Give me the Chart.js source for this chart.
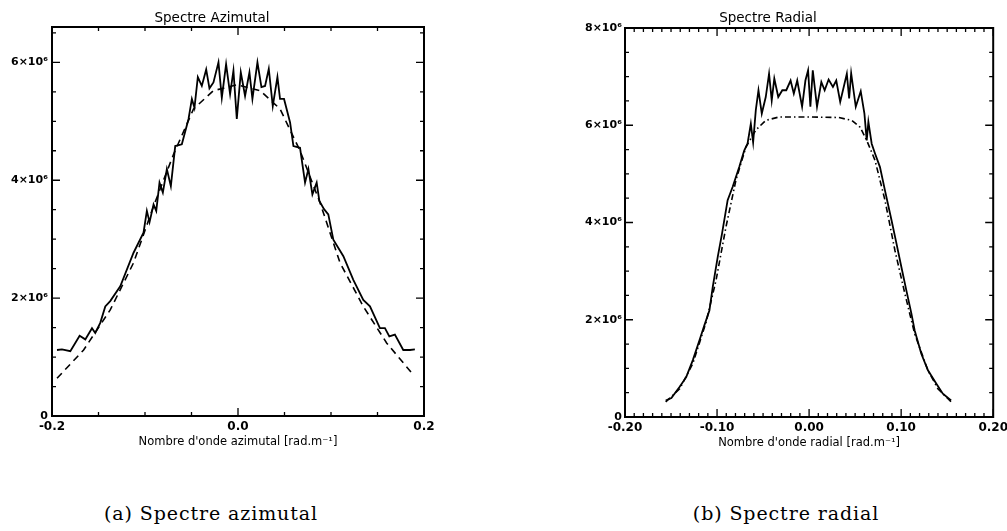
<!DOCTYPE html>
<html>
<head>
<meta charset="utf-8">
<script src="https://cdn.jsdelivr.net/npm/chart.js@4.4.1/dist/chart.umd.min.js"></script>
<style>
  body { margin: 0; background: #fff; overflow: hidden; width: 1007px; height: 531px; position: relative; }
  .box { position: absolute; top: 0; }
  .caption { position: absolute; font-family: "DejaVu Serif", serif; font-size: 19px; letter-spacing: 0.9px; color: #000; white-space: nowrap; transform: translateX(-50%); }
</style>
</head>
<body>
<div class="box" style="left:0; width:470px; height:460px;"><canvas id="azChart"></canvas></div>
<div class="box" style="left:540px; width:472px; height:461px;"><canvas id="radChart"></canvas></div>
<div class="caption" style="left:211px; top:502px;">(a) Spectre azimutal</div>
<div class="caption" style="left:786px; top:502px;">(b) Spectre radial</div>

<script>
// values, y in units of 10^6

// Spectre azimutal - solid (measured)
const azX = [-0.1946, -0.1893, -0.1803, -0.1703, -0.1642, -0.1570, -0.1535, -0.1481, -0.1427, -0.1374,
  -0.1266, -0.1123, -0.1016, -0.0980, -0.0951, -0.0908, -0.0879, -0.0844, -0.0808, -0.0765,
  -0.0722, -0.0675, -0.0604, -0.0532, -0.0496, -0.0468, -0.0432, -0.0389, -0.0342, -0.0307,
  -0.0264, -0.0210, -0.0174, -0.0128, -0.0085, -0.0049, -0.0013, 0.0030, 0.0076, 0.0123,
  0.0155, 0.0209, 0.0252, 0.0291, 0.0331, 0.0374, 0.0424, 0.0452, 0.0495, 0.0560,
  0.0596, 0.0667, 0.0721, 0.0757, 0.0800, 0.0846, 0.0875, 0.0925, 0.0971, 0.1025,
  0.1133, 0.1240, 0.1347, 0.1419, 0.1526, 0.1580, 0.1627, 0.1687, 0.1777, 0.1849, 0.1902];
const azSolid = [1.12, 1.13, 1.10, 1.36, 1.30, 1.49, 1.41, 1.58, 1.86, 1.95,
  2.20, 2.77, 3.11, 3.48, 3.29, 3.59, 3.48, 3.96, 3.79, 4.19,
  3.90, 4.58, 4.61, 5.04, 5.38, 5.23, 5.75, 5.60, 5.88, 5.56,
  5.66, 6.00, 5.40, 5.97, 5.46, 5.86, 5.04, 5.83, 5.43, 5.83,
  5.38, 6.00, 5.58, 5.60, 5.89, 5.26, 5.75, 5.38, 5.38, 4.98,
  4.58, 4.55, 3.96, 4.19, 3.76, 3.96, 3.65, 3.51, 3.42, 2.99,
  2.71, 2.31, 1.97, 1.86, 1.49, 1.49, 1.35, 1.38, 1.12, 1.12, 1.13];

// Spectre azimutal - dashed (model)
const azDashX = [-0.1946, -0.1660, -0.1374, -0.1123, -0.0908, -0.0693, -0.0478, -0.0264, -0.0013,
  0.0238, 0.0452, 0.0667, 0.0882, 0.1097, 0.1347, 0.1598, 0.1884];
const azDash = [0.64, 1.12, 1.80, 2.60, 3.56, 4.44, 5.21, 5.52, 5.62,
  5.52, 5.21, 4.50, 3.62, 2.60, 1.86, 1.24, 0.70];

// Spectre radial - solid (measured)
const radX = [-0.1558, -0.1496, -0.1406, -0.1335, -0.1263, -0.1191, -0.1137, -0.1083, -0.1047, -0.0993,
  -0.0946, -0.0885, -0.0831, -0.0759, -0.0705, -0.0669, -0.0633, -0.0608, -0.0579, -0.0550,
  -0.0514, -0.0471, -0.0435, -0.0406, -0.0378, -0.0335, -0.0291, -0.0248, -0.0201, -0.0166,
  -0.0129, -0.0076, -0.0040, -0.0011, 0.0014, 0.0040, 0.0086, 0.0133, 0.0169, 0.0212,
  0.0259, 0.0295, 0.0338, 0.0385, 0.0410, 0.0435, 0.0457, 0.0507, 0.0561, 0.0601,
  0.0626, 0.0644, 0.0680, 0.0716, 0.0770, 0.0824, 0.0896, 0.0950, 0.1003, 0.1057,
  0.1111, 0.1147, 0.1219, 0.1291, 0.1381, 0.1453, 0.1543];
const radSolid = [0.34, 0.39, 0.62, 0.82, 1.17, 1.58, 1.89, 2.19, 2.67, 3.29,
  3.77, 4.46, 4.73, 5.14, 5.48, 5.62, 6.03, 5.65, 6.31, 6.72,
  6.24, 6.58, 7.06, 6.51, 6.96, 6.58, 6.72, 6.72, 6.92, 6.65,
  6.92, 6.38, 6.92, 7.13, 6.38, 7.13, 6.38, 6.89, 6.72, 6.94,
  6.79, 6.92, 6.48, 6.86, 7.06, 6.55, 7.07, 6.38, 6.70, 6.24,
  5.69, 6.07, 5.62, 5.42, 5.14, 4.66, 4.04, 3.56, 3.08, 2.60,
  2.13, 1.78, 1.30, 0.96, 0.69, 0.48, 0.34];

// Spectre radial - dash-dot (model)
const radDashX = [-0.1558, -0.1406, -0.1263, -0.1119, -0.1011, -0.0903, -0.0795, -0.0687, -0.0579, -0.0471,
  -0.0327, -0.0004, 0.0320, 0.0464, 0.0554, 0.0626, 0.0716, 0.0824, 0.0932, 0.1040,
  0.1147, 0.1291, 0.1399, 0.1543];
const radDash = [0.31, 0.58, 1.10, 1.95, 2.81, 3.91, 4.87, 5.55, 5.90, 6.10,
  6.17, 6.17, 6.16, 6.10, 5.96, 5.69, 5.28, 4.46, 3.43, 2.54,
  1.71, 0.96, 0.58, 0.31];

// tick labels (major ticks) and minor tick spacing
const azXTicks = [-0.2, 0, 0.2];
const azXLabels = ['-0.2', '0.0', '0.2'];
const azYTicks = [0, 2, 4, 6];
const azYLabels = ['0', '2\u00d710\u2076', '4\u00d710\u2076', '6\u00d710\u2076'];
const radXTicks = [-0.2, -0.1, 0, 0.1, 0.2];
const radXLabels = ['-0.20', '-0.10', '0.00', '0.10', '0.20'];
const radYTicks = [0, 2, 4, 6, 8];
const radYLabels = ['0', '2\u00d710\u2076', '4\u00d710\u2076', '6\u00d710\u2076', '8\u00d710\u2076'];

Chart.defaults.font.family = '"DejaVu Sans", sans-serif';
Chart.defaults.color = '#000';

function pts(xs, ys) {
    return xs.map((x, i) => ({ x: x, y: ys[i] * 1e6 }));
}

function findTick(v, list) {
    return list.findIndex(t => Math.abs(t - v) < 1e-7);
}

// tick values every `step` between min and max
function stepTicks(min, max, step, unit) {
    const out = [];
    const n = Math.round((max - min) / step);
    for (let i = 0; i <= n; i++) {
        const v = Math.round((min + i * step) * 1e6) / 1e6;
        if (v <= max + 1e-9) out.push({ value: v * unit });
    }
    return out;
}

// box with inward ticks on all four sides
const frameTicks = {
    id: 'frameTicks',
    afterDatasetsDraw(chart, args, opts) {
        const { ctx, chartArea: a, scales: { x, y } } = chart;
        ctx.save();
        ctx.strokeStyle = '#000';
        ctx.lineWidth = 1.3;
        ctx.beginPath();
        x.ticks.forEach(t => {
            const px = x.getPixelForValue(t.value);
            const len = findTick(t.value, opts.xMajor) >= 0 ? 8 : 4;
            ctx.moveTo(px, a.bottom); ctx.lineTo(px, a.bottom - len);
            ctx.moveTo(px, a.top); ctx.lineTo(px, a.top + len);
        });
        y.ticks.forEach(t => {
            const py = y.getPixelForValue(t.value);
            const len = findTick(t.value / 1e6, opts.yMajor) >= 0 ? 8 : 4;
            ctx.moveTo(a.left, py); ctx.lineTo(a.left + len, py);
            ctx.moveTo(a.right, py); ctx.lineTo(a.right - len, py);
        });
        ctx.stroke();
        ctx.lineWidth = 2;
        ctx.strokeRect(a.left, a.top, a.right - a.left, a.bottom - a.top);
        ctx.restore();
    }
};

function makeChart(id, cfg) {
    return new Chart(document.getElementById(id), {
        type: 'scatter',
        data: {
            datasets: [
                { data: cfg.solid, showLine: true, borderColor: '#000', borderWidth: 1.8, pointRadius: 0, tension: 0 },
                { data: cfg.model, showLine: true, borderColor: '#000', borderWidth: 1.6, pointRadius: 0, tension: 0, borderDash: cfg.dash }
            ]
        },
        options: {
            responsive: true,
            maintainAspectRatio: false,
            animation: false,
            layout: { padding: { left: 0, right: cfg.padRight, top: 0, bottom: 0 } },
            plugins: {
                legend: { display: false },
                tooltip: { enabled: false },
                title: {
                    display: true,
                    text: cfg.title,
                    font: { size: 13.5, weight: 'normal' },
                    padding: { top: 10, bottom: cfg.titleGap }
                },
                frameTicks: { xMajor: cfg.xTicks, yMajor: cfg.yTicks }
            },
            scales: {
                x: {
                    type: 'linear',
                    min: -0.2,
                    max: 0.2,
                    bounds: 'data',
                    grid: { display: false, drawTicks: false },
                    border: { display: false },
                    afterBuildTicks: (scale) => { scale.ticks = stepTicks(-0.2, 0.2, cfg.xStep, 1); },
                    ticks: {
                        autoSkip: false,
                        maxRotation: 0,
                        padding: 4,
                        font: { size: 12, weight: 'bold' },
                        callback: (v) => {
                            const i = findTick(v, cfg.xTicks);
                            return i >= 0 ? cfg.xLabels[i] : '';
                        }
                    },
                    title: {
                        display: true,
                        text: cfg.xTitle,
                        font: { size: 11.5 },
                        padding: { top: 0, bottom: 11 }
                    },
                    afterFit: (scale) => { scale.height = 44; }
                },
                y: {
                    type: 'linear',
                    min: 0,
                    max: cfg.yMax,
                    bounds: 'data',
                    grid: { display: false, drawTicks: false },
                    border: { display: false },
                    afterBuildTicks: (scale) => { scale.ticks = stepTicks(0, cfg.yMax / 1e6, 0.5, 1e6); },
                    ticks: {
                        autoSkip: false,
                        padding: cfg.yPad,
                        font: { size: 11, weight: 'bold' },
                        callback: (v) => {
                            const i = findTick(v / 1e6, cfg.yTicks);
                            return i >= 0 ? cfg.yLabels[i] : '';
                        }
                    },
                    afterFit: (scale) => { scale.width = cfg.yWidth; }
                }
            }
        },
        plugins: [frameTicks]
    });
}

makeChart('azChart', {
    title: 'Spectre Azimutal',
    xTitle: 'Nombre d\'onde azimutal [rad.m\u207b\u00b9]',
    solid: pts(azX, azSolid),
    model: pts(azDashX, azDash),
    dash: [7, 5],
    xStep: 0.05,
    xTicks: azXTicks, xLabels: azXLabels,
    yTicks: azYTicks, yLabels: azYLabels,
    yMax: 6.6e6,
    yWidth: 52, yPad: 4,
    padRight: 46, titleGap: 0.8
});

makeChart('radChart', {
    title: 'Spectre Radial',
    xTitle: 'Nombre d\'onde radial [rad.m\u207b\u00b9]',
    solid: pts(radX, radSolid),
    model: pts(radDashX, radDash),
    dash: [6, 3, 1.5, 3],
    xStep: 0.01,
    xTicks: radXTicks, xLabels: radXLabels,
    yTicks: radYTicks, yLabels: radYLabels,
    yMax: 8e6,
    yWidth: 85, yPad: 3,
    padRight: 16, titleGap: 1.8
});
</script>
</body>
</html>
